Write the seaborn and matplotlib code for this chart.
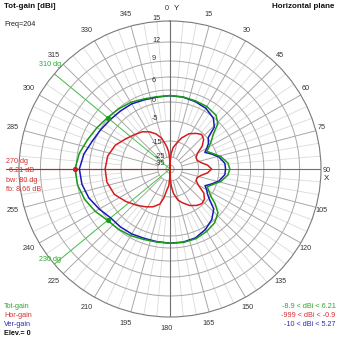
import logging
import numpy as np
import pandas as pd
import matplotlib
matplotlib.use("Agg")
import matplotlib.pyplot as plt
import seaborn as sns

logging.getLogger("matplotlib.font_manager").setLevel(logging.ERROR)

# ---------------- data ----------------
tot_angles = [0, 10, 20, 30, 40, 46, 50, 56, 60, 64, 70, 76, 84, 90, 96, 104, 110, 116, 120, 124,
              128, 133, 141, 150, 160, 170, 180, 190, 200, 210, 220, 230, 240, 250, 260, 270,
              280, 290, 300, 310, 320, 330, 340, 350, 360]
tot_gain = [1.6, 1.55, 1.4, 1.3, 0.8, -0.45, -2.9, -4.9, -7.0, -8.9, -6.5, -4.1, -2.6, -2.2, -2.6,
            -4.1, -6.5, -8.7, -7.0, -5.0, -2.9, -0.7, 0.6, 1.25, 1.8, 1.9, 1.8, 1.8, 2.0, 2.5, 2.9,
            3.21, 4.3, 5.3, 6.0, 6.21, 5.6, 4.6, 3.85, 3.21, 2.85, 2.5, 1.9, 1.6, 1.6]
ver_gain = [1.6, 1.5, 1.2, 0.8, -0.2, -1.75, -4.75, -6.3, -8.1, -10.0, -7.2, -4.6, -3.4, -3.3, -3.4,
            -4.6, -7.2, -9.9, -8.25, -6.9, -4.75, -2.2, -0.5, 0.67, 1.57, 1.8, 1.8, 1.7, 1.7, 2.0,
            2.15, 2.25, 3.25, 4.3, 5.0, 5.27, 4.55, 3.5, 2.87, 2.4, 2.16, 2.05, 1.65, 1.5, 1.6]

hor_angles = [0, 1, 2, 4, 8, 14, 20, 28, 36, 42, 48, 54, 60, 66, 72, 78, 84, 90, 96, 102, 108, 114,
              120, 126, 132, 138, 144, 152, 160, 166, 172, 176, 178, 179, 180, 181, 182, 184, 188,
              192, 196, 204, 212, 222, 233, 245, 258, 270, 282, 294, 305, 315, 324, 332, 339, 345,
              349, 352, 356, 358, 359, 360]
hor_gain = [-999, -35, -29, -23, -19, -16, -12.5, -9, -7, -5.8, -6.8, -9.5, -13.5, -15, -15, -13.5,
            -10.5, -8.6, -10.5, -13.5, -15, -15, -13, -8.5, -6.3, -5.7, -6.5, -8.3, -11, -13, -17,
            -22, -28, -34, -999, -34, -28, -22, -19.5, -14, -10.7, -8.3, -6.7, -4.8, -3.4, -1.8,
            -1.0, -0.9, -1.2, -2.2, -3.75, -4.8, -6.0, -8.0, -10.3, -13, -16.2, -18.5, -22, -28,
            -34, -999]

max_angle = [270]
max_gain = [6.21]
bw_angles = [310, 230]
bw_gain = [3.21, 3.21]

ring_levels = [15, 12, 9, 6, 3, 0, -5, -15, -25, -35]
ring_labels = ["15", "12", "9", "6", "0", "-5", "-15", "-25", "-35"]
theta_label_angles = [a for a in range(0, 360, 15) if a != 270]

legend_names = ["Tot-gain", "Hor-gain", "Ver-gain"]
range_texts = ["-8.9 < dBi < 6.21", "-999 < dBi < -0.9", "-10 < dBi < 5.27"]

# ---------------- style ----------------
sns.set_theme(style="white")
plt.rcParams["font.family"] = ["Liberation Sans Narrow", "Liberation Sans", "DejaVu Sans"]

GREEN = "#1a9a1a"
RED = "#d41c1c"
BLUE = "#1818b8"
GREEN_T = "#2aa82a"
RED_T = "#d83030"
BLUE_T = "#2c2cb0"

W = H = 339
fig = plt.figure(figsize=(W / 100, H / 100), dpi=100)

def fx(x):
    return x / W

def fy(y):
    return 1 - y / H

# axes: centre (170,169) px, radii 151 (horiz) x 148 (vert)
cx, cy, rh, rv = 170, 169, 151, 148
ax = fig.add_axes([fx(cx - rh), fy(cy + rv), 2 * rh / W, 2 * rv / H], projection="polar")
ax.set_theta_zero_location("N")
ax.set_theta_direction(-1)

KDB = np.array([-40, -35, -25, -15, -5, 0, 3, 6, 9, 12, 15, 25], dtype=float)
KPX = np.array([0, 4, 12, 28, 48, 67, 79, 92, 108, 127, 148, 218], dtype=float)

def fwd(v):
    return np.interp(v, KDB, KPX)

def inv(p):
    return np.interp(p, KPX, KDB)

ax.set_rscale("function", functions=(fwd, inv))
ax.grid(False)

# grid
th = np.linspace(0, 2 * np.pi, 721)
for lv in ring_levels[1:]:
    ax.plot(th, np.full_like(th, lv), color="#a8a8a8", lw=0.7, zorder=1)
for d in range(0, 360, 5):
    t = np.deg2rad(d)
    if d % 90 == 0:
        ax.plot([t, t], [-40, 15], color="#707070", lw=0.8, zorder=1.5)
    elif d % 15 == 0:
        ax.plot([t, t], [-25, 15], color="#a8a8a8", lw=0.7, zorder=1)
    else:
        ax.plot([t, t], [-5, 15], color="#dadada", lw=0.6, zorder=0.9)

# beam-width lines and max line
for a in bw_angles:
    t = np.deg2rad(a)
    ax.plot([t, t], [-40, 15], color="#4cc24c", lw=0.7, zorder=1.8)
ax.plot([np.deg2rad(270)] * 2, [-40, 16.8], color=RED, lw=0.8, zorder=1.8, clip_on=False)

# pattern curves
df_tot = pd.DataFrame({"theta": np.deg2rad(tot_angles), "tot": tot_gain, "ver": ver_gain})
df_hor = pd.DataFrame({"theta": np.deg2rad(hor_angles), "hor": hor_gain})
sns.lineplot(data=df_tot, x="theta", y="ver", ax=ax, sort=False, estimator=None,
             color=BLUE, lw=1.1, zorder=3)
sns.lineplot(data=df_tot, x="theta", y="tot", ax=ax, sort=False, estimator=None,
             color=GREEN, lw=1.1, zorder=4)
sns.lineplot(data=df_hor, x="theta", y="hor", ax=ax, sort=False, estimator=None,
             color=RED, lw=1.1, zorder=5)
sns.scatterplot(x=np.deg2rad(bw_angles), y=bw_gain, ax=ax, color=GREEN, s=14,
                linewidth=0, zorder=6)
sns.scatterplot(x=np.deg2rad(max_angle), y=max_gain, ax=ax, color=RED, s=14,
                linewidth=0, zorder=6)

ax.set_aspect("auto")
ax.set_rlim(-40, 15)
ax.set_xticks([])
ax.set_yticks([])
ax.set_xlabel("")
ax.set_ylabel("")
ax.spines["polar"].set_color("#7a7a7a")
ax.spines["polar"].set_linewidth(0.8)
ax.set_facecolor("white")

FS = 5.2
# theta labels
for a in theta_label_angles:
    t = np.deg2rad(a)
    x = 167 + 160 * np.sin(t)
    y = 168.7 - 160 * np.cos(t)
    if a == 90:
        y = 170
    fig.text(fx(x), fy(y), str(a), fontsize=FS, color="#333333", ha="center", va="center")
fig.text(fx(176), fy(9), "Y", fontsize=FS + 0.5, color="#222222", ha="center", va="center")
fig.text(fx(326), fy(178), "X", fontsize=FS + 0.5, color="#222222", ha="center", va="center")

# radial labels
ring_label_pos = [(152, 18), (152, 40), (152, 59), (152, 80), (152, 101), (152, 119),
                  (152, 142.7), (154.5, 156.5), (154.5, 163.5)]
for lab, (x, y) in zip(ring_labels, ring_label_pos):
    fig.text(fx(x), fy(y), lab, fontsize=FS, color="#333333", ha="left", va="center")

# beamwidth annotations
fig.text(fx(50), fy(64.5), "310 dg", fontsize=FS, color=GREEN_T, ha="center", va="center")
fig.text(fx(50), fy(259.5), "230 dg", fontsize=FS, color=GREEN_T, ha="center", va="center")

# red info text
fig.text(fx(6), fy(161.5), "270 dg", fontsize=FS, color=RED_T, ha="left", va="center")
fig.text(fx(9), fy(170.5), "6.21 dB", fontsize=FS, color=RED_T, ha="left", va="center")
fig.text(fx(6), fy(180.5), "bw: 80 dg", fontsize=FS, color=RED_T, ha="left", va="center")
fig.text(fx(6), fy(189.5), "fb: 8.66 dB", fontsize=FS, color=RED_T, ha="left", va="center")

# titles
fig.text(fx(3.5), fy(6.5), "Tot-gain [dBi]", fontsize=FS + 0.6, fontweight="bold",
         color="#111111", ha="left", va="center")
fig.text(fx(334), fy(6.5), "Horizontal plane", fontsize=FS + 0.6, fontweight="bold",
         color="#111111", ha="right", va="center")
fig.text(fx(4), fy(24), "Freq=204", fontsize=FS, color="#222222", ha="left", va="center")

# legends
cols = [GREEN_T, RED_T, BLUE_T]
ys = [306.5, 315.5, 324.5]
for name, rng, c, y in zip(legend_names, range_texts, cols, ys):
    fig.text(fx(4), fy(y), name, fontsize=FS, color=c, ha="left", va="center")
    fig.text(fx(335.5), fy(y), rng, fontsize=FS, color=c, ha="right", va="center")
fig.text(fx(4), fy(333.5), "Elev.= 0", fontsize=FS, fontweight="bold", color="#111111",
         ha="left", va="center")

fig.savefig("out.png", dpi=100, facecolor="white")
